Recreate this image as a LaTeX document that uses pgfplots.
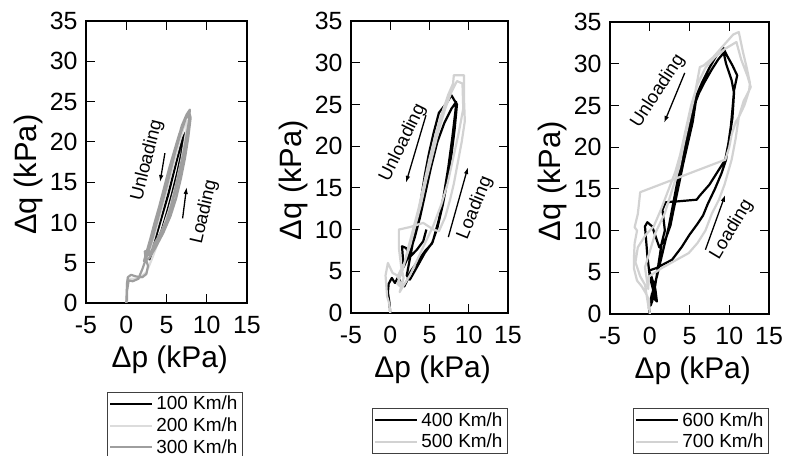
\documentclass[border=0pt]{standalone}
\usepackage{pgfplots}
\pgfplotsset{compat=1.18}
\usepackage{fontspec}
\setmainfont{Liberation Sans}
\usetikzlibrary{arrows.meta}
\definecolor{lg}{HTML}{D2D2D2}
\definecolor{llg}{HTML}{DCDCDC}
\definecolor{mg}{HTML}{9E9E9E}
\tikzset{
  ann/.style={font=\fontsize{18.5}{18.5}\selectfont},
  arr/.style={line width=1.3bp, -{Latex[length=7bp,width=4.5bp]}},
}
\pgfplotsset{
  panel/.style={
    scale only axis,
    xmin=-5, xmax=15, ymin=0, ymax=35,
    xtick={-5,0,5,10,15}, ytick={0,5,...,35},
    tick align=inside, major tick length=9bp,
    axis line style={line width=1.3bp},
    every tick/.style={black, line width=1.1bp},
    tick label style={font=\fontsize{25}{25}\selectfont},
    xticklabel style={yshift=-10bp},
    yticklabel style={xshift=-5bp},
    /pgf/number format/assume math mode=true,
    xlabel={Δp (kPa)}, ylabel={Δq (kPa)},
    every axis x label/.style={at={(ticklabel cs:0.52)}, anchor=near ticklabel,
      font=\fontsize{30}{30}\selectfont, yshift=-5bp},
    every axis y label/.style={at={(ticklabel cs:0.455)}, rotate=90, anchor=near ticklabel,
      font=\fontsize{31}{31}\selectfont},
    every axis plot/.append style={line width=2.2bp, line join=round},
    legend cell align=left,
    legend style={draw=black!75, line width=0.8bp,
      font=\fontsize{19}{19}\selectfont,
      nodes={inner ysep=2.5bp, inner xsep=3bp},
      row sep=1.5bp, inner xsep=2bp, inner ysep=1.5bp},
    legend image code/.code={\draw[##1, line width=2bp] (0bp,0bp) -- (42bp,0bp);},
  },
}
\begin{document}
\begin{tikzpicture}
\useasboundingbox (0bp,0bp) rectangle (798bp,456bp);
% ---------------- Panel 1
\begin{axis}[panel, at={(86bp,153bp)}, anchor=south west, width=161bp, height=282bp,
  legend style={at={(axis description cs:0.130,-0.315)}, anchor=north west}]
\addplot[black] coordinates {
(2.9,5.3)(3.6,7.0)(4.4,9.0)(5.1,11.4)(5.7,13.6)(6.3,16.0)(6.8,18.3)(7.3,20.6)(7.4,21.2)
(7.0,20.4)(6.4,18.2)(5.8,15.8)(5.2,13.4)(4.5,11.0)(3.8,8.6)(3.2,6.6)(2.9,5.3)};
\addlegendentry{100 Km/h}
\addplot[llg] coordinates {
(0,0)(0.1,2.4)(0.5,3.0)(1.5,3.0)(2.5,3.8)(3.2,5.5)(4.3,8.5)(5.3,11.5)(6.2,14.8)(6.9,18.0)
(7.4,21.0)(7.6,22.6)(7.2,22.0)(6.5,19.5)(5.7,16.5)(4.9,13.5)(4.1,10.5)(3.4,8.0)(2.8,6.0)};
\addlegendentry{200 Km/h}
\addplot[mg] coordinates {
(0,0)(0.05,1.0)(0.1,2.5)(0.2,3.2)(0.6,3.5)(1.2,3.3)(2.0,3.2)(2.5,3.6)(2.7,4.6)(2.4,5.6)
(2.3,6.4)(2.8,6.6)(3.1,6.1)(3.4,7.2)
(4.2,8.6)(5.0,10.2)(5.6,12.2)(6.1,14.2)(6.6,16.4)(7.1,18.6)(7.5,20.8)(7.8,22.6)(7.9,24.0)
(7.5,23.4)(6.9,22.0)(6.4,20.2)(5.8,18.0)(5.2,15.8)(4.6,13.6)(4.0,11.4)(3.5,9.4)(3.0,7.6)(2.5,6.2)
(2.9,5.9)(3.8,7.4)(4.7,9.3)(5.4,11.3)(6.0,13.5)(6.5,15.6)(7.0,17.8)(7.4,20.0)(7.8,22.0)(7.8,23.4)
(7.3,22.8)(6.6,21.0)(6.0,19.0)(5.3,16.6)(4.7,14.3)(4.1,12.0)(3.5,9.9)(3.0,8.0)(2.6,6.6)(2.2,5.2)
(2.8,5.5)(3.6,6.8)(4.6,8.7)(5.5,10.8)(6.2,13.0)(6.8,15.5)(7.3,18.0)(7.7,20.5)(8.0,23.0)(7.8,23.8)
(7.4,22.9)(6.8,21.2)(6.1,18.8)(5.5,16.4)(4.9,14.0)(4.3,11.8)(3.7,9.6)(3.2,7.8)(2.7,6.2)
(2.0,4.2)(1.5,3.0)(0.8,2.7)(0.3,2.8)(0.1,1.5)(0.1,0.2)};
\addlegendentry{300 Km/h}
\node[ann, rotate=76] at (axis cs:2.6,17.7) {Unloading};
\draw[arr] (axis cs:4.8,18.6) -- (axis cs:4.2,15.0);
\node[ann, rotate=77] at (axis cs:9.7,11.3) {Loading};
\draw[arr] (axis cs:7.0,10.5) -- (axis cs:7.5,14.4);
\end{axis}
% ---------------- Panel 2
\begin{axis}[panel, at={(351bp,143bp)}, anchor=south west, width=157bp, height=292bp,
  legend style={at={(axis description cs:0.134,-0.325)}, anchor=north west}]
\addplot[black] coordinates {
(0,0)(-0.1,1.2)(-0.3,2.5)(-0.2,3.5)(0.2,4.2)(0.6,3.6)(1.0,4.3)(1.4,3.5)(1.8,3.2)(2.2,4.0)
(2.6,5.0)(3.5,6.2)(4.5,7.5)(5.3,8.3)(6.0,10.2)(6.7,13.0)(7.3,16.0)(7.8,19.0)(8.2,22.0)(8.5,25.0)(8.1,25.6)(7.8,26.1)
(7.2,25.2)(6.2,24.0)(5.5,21.5)(4.9,19.0)(4.4,16.5)(3.9,13.5)(3.4,11.0)(2.9,8.5)(2.5,6.5)(2.1,4.5)
(2.5,4.0)(3.4,5.5)(4.4,7.2)(5.4,8.5)(6.2,11.2)(6.8,14.0)(7.4,17.5)(7.9,21.0)(8.3,24.2)(8.4,25.3)
(7.8,24.5)(6.9,22.8)(6.0,20.5)(5.2,17.5)(4.5,14.5)(3.8,11.5)(3.1,9.0)(2.4,7.0)(1.7,5.5)(1.5,8.0)(2.0,7.8)(2.6,6.8)(3.4,7.6)(4.2,8.6)(4.6,10.0)};
\addlegendentry{400 Km/h}
\addplot[lg] coordinates {
(0,0)(-0.1,1.0)(-0.4,2.0)(-0.5,3.2)(-0.6,4.5)(-0.3,6.0)(0.3,4.8)(0.9,4.5)(1.5,3.0)(1.2,2.5)(1.7,4.2)(1.4,5.5)
(1.1,7.8)(1.1,10.0)(2.5,10.3)(4.2,10.8)(5.5,10.0)(6.2,9.8)
(7.0,11.5)(7.6,13.5)(8.1,15.5)(8.6,18.0)(9.1,20.5)(9.5,23.0)(9.4,25.5)(9.4,28.5)(8.1,28.5)(8.0,27.5)
(7.4,26.2)(6.6,24.0)(5.8,21.5)(5.0,18.5)(4.3,15.5)(3.6,12.5)(2.9,10.0)(2.2,7.5)(1.6,5.2)(0.9,3.5)
(1.5,3.0)(2.5,4.5)(3.5,6.5)(4.5,8.5)(5.5,10.5)(6.5,13.0)(7.3,15.5)(8.0,18.5)(8.7,21.5)(9.3,24.5)(9.2,27.5)(8.5,27.8)
(7.8,26.5)(7.0,24.5)(6.2,22.0)(5.4,19.0)(4.6,16.0)(3.9,13.0)(3.2,10.5)(2.5,8.0)(1.8,6.0)(1.0,4.5)};
\addlegendentry{500 Km/h}
\node[ann, rotate=64] at (axis cs:1.6,20.4) {Unloading};
\draw[arr] (axis cs:4.55,23.7) -- (axis cs:2.0,15.6);
\node[ann, rotate=68] at (axis cs:10.8,12.6) {Loading};
\draw[arr] (axis cs:7.4,9.1) -- (axis cs:9.9,17.5);
\end{axis}
% ---------------- Panel 3
\begin{axis}[panel, at={(610bp,142bp)}, anchor=south west, width=159bp, height=292bp,
  legend style={at={(axis description cs:0.145,-0.322)}, anchor=north west}]
\addplot[black] coordinates {
(0,0)(-0.1,0.8)(0.3,2.5)(0.6,1.8)(0.9,1.5)(0.7,3.0)(0.2,4.5)(-0.1,5.2)
(0.8,5.5)(1.8,6.0)(2.8,6.5)(4.0,8.0)(5.0,9.5)(6.0,10.8)(6.7,11.8)(7.3,13.2)(8.2,15.0)(9.0,16.8)(9.6,18.5)(9.9,20.5)(10.2,22.5)(10.4,24.5)(10.6,26.8)(11.0,28.6)(10.4,29.8)(9.7,31.0)(9.2,32.0)
(8.4,31.0)(7.5,29.5)(6.6,27.8)(5.7,25.8)(5.2,23.5)(4.6,21.0)(4.0,18.3)(3.4,15.5)(2.9,13.0)(2.4,10.5)(1.9,8.5)(1.4,6.5)(0.9,4.5)(0.4,2.8)(0.1,1.0)
(0.3,1.5)(0.7,3.5)(1.1,6.0)(1.5,8.5)(1.9,10.0)(1.6,12.5)(2.0,13.4)(3.5,13.5)(5.9,13.7)(6.3,14.2)(7.5,15.5)(8.5,17.0)(9.5,18.5)(10.0,21.0)(10.4,23.5)(10.6,26.5)(10.3,28.0)(9.6,30.0)(9.3,31.3)
(8.6,30.5)(7.8,29.3)(6.9,27.8)(6.2,26.5)(5.8,25.5)(5.4,23.0)(4.8,20.5)(4.2,18.0)(3.6,15.2)(3.0,12.5)(2.6,10.6)(2.0,9.0)(1.2,8.0)(0.3,10.5)(-0.3,11.0)(-0.6,10.5)(-0.3,7.0)(0.0,4.5)(0.4,3.0)(0.9,1.5)};
\addlegendentry{600 Km/h}
\addplot[lg] coordinates {
(0,0)(-0.1,1.7)(-0.5,2.5)(-1.0,3.3)(-1.6,4.0)(-2.0,5.5)(-2.0,6.5)(-1.9,8.5)(-1.6,10.0)(-1.9,10.4)(-1.5,12.0)(-1.2,14.6)
(9.5,18.5)
(10.0,20.0)(10.3,21.5)(10.8,23.0)(11.2,23.6)(11.8,25.5)(12.5,26.8)(12.6,27.7)(12.2,29.5)(11.7,31.5)(11.2,33.8)(10.5,33.5)
(9.1,32.0)(8.0,30.8)(6.8,29.8)(6.3,29.6)(5.7,26.5)(5.0,23.5)(4.3,20.5)(3.7,17.6)(2.8,14.8)(1.9,12.1)(0.7,9.7)(-0.6,5.6)(-0.2,3.0)(-0.1,4.5)
(1.5,5.5)(3.0,6.3)(4.9,7.3)(6.0,8.5)(7.0,10.0)(7.8,12.0)(8.7,13.7)(9.4,15.5)(10.3,18.5)(10.8,21.0)(11.2,23.6)(11.9,25.0)(12.5,26.8)(12.7,27.2)
(12.3,28.5)(11.5,30.5)(10.9,32.6)(9.5,31.8)(8.2,30.8)(7.0,29.5)(6.0,27.5)(5.2,25.0)(4.5,22.0)(3.8,19.0)(3.2,17.0)(2.4,15.0)(1.4,12.5)(0.5,10.5)(-0.5,9.5)(-1.5,8.0)(-1.8,6.2)(-1.2,4.5)(-0.6,3.5)(-0.1,0.5)};
\addlegendentry{700 Km/h}
\node[ann, rotate=57] at (axis cs:1.04,26.7) {Unloading};
\draw[arr] (axis cs:4.4,28.9) -- (axis cs:1.8,22.9);
\node[ann, rotate=59] at (axis cs:10.3,10.1) {Loading};
\draw[arr] (axis cs:7.0,7.7) -- (axis cs:9.5,14.3);
\end{axis}
\end{tikzpicture}
\end{document}
